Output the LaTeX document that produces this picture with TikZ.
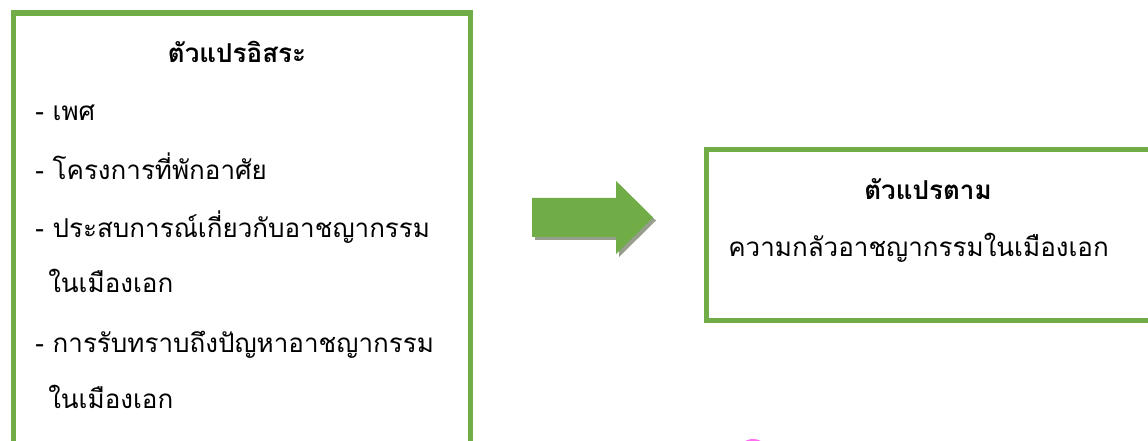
\documentclass[tikz,border=0pt]{standalone}
\usepackage{fontspec}
\setmainfont{Loma}[Script=Thai]
\definecolor{boxgreen}{RGB}{112,173,71}
\definecolor{shadowgray}{RGB}{150,158,140}
\definecolor{markpink}{RGB}{255,110,240}

\tikzset{
  varbox/.style={draw=boxgreen, line width=4pt, rectangle, inner sep=0pt, anchor=north west},
  itemtext/.style={anchor=base west, inner sep=0pt, font=\fontsize{19.5pt}{24pt}\selectfont},
  headtext/.style={anchor=base, inner sep=0pt, font=\bfseries\fontsize{19.5pt}{24pt}\selectfont}
}

\begin{document}
\begin{tikzpicture}[x=0.75pt,y=-0.75pt]
      \useasboundingbox (0,0) rectangle (1148,441);
      \clip (0,0) rectangle (1148,441);

      % Draw the two variable boxes
      \node[varbox, minimum width=342.75pt, minimum height=345pt] (indep) at (10.5,10.5) {};
      \node[varbox, minimum width=342pt, minimum height=128pt] (dep) at (704,147) {};

      % Draw the box titles
      \node[headtext] (indeptitle) at (237,63) {ตัวแปรอิสระ};
      \node[headtext] (deptitle) at (928,200) {ตัวแปรตาม};

      % Draw the independent variables
      \foreach \i/\x/\y/\txt in {1/35/121/{- เพศ},
                                 2/35/180/{- โครงการที่พักอาศัย},
                                 3/35/238/{- ประสบการณ์เกี่ยวกับอาชญากรรม},
                                 4/48/293/{ในเมืองเอก},
                                 5/35/352/{- การรับทราบถึงปัญหาอาชญากรรม},
                                 6/48/408/{ในเมืองเอก}}
        \node[itemtext] (item\i) at (\x,\y) {\txt};

      % Draw the dependent variable
      \node[itemtext] (depitem) at (728,257) {ความกลัวอาชญากรรมในเมืองเอก};

      % Draw the arrow between the boxes (shadow first)
      \foreach \s/\c in {3/shadowgray, 0/boxgreen}
        \fill[\c, shift={(\s,\s)}] (532,198) -- (616,198) -- (616,181) -- (653,217.5)
          -- (616,254) -- (616,237) -- (532,237) -- cycle;

      % Draw the pink mark at the bottom
      \node[circle, draw=markpink, line width=2pt, minimum size=22pt, inner sep=0pt] (mark) at (753,455) {};
\end{tikzpicture}
\end{document}
